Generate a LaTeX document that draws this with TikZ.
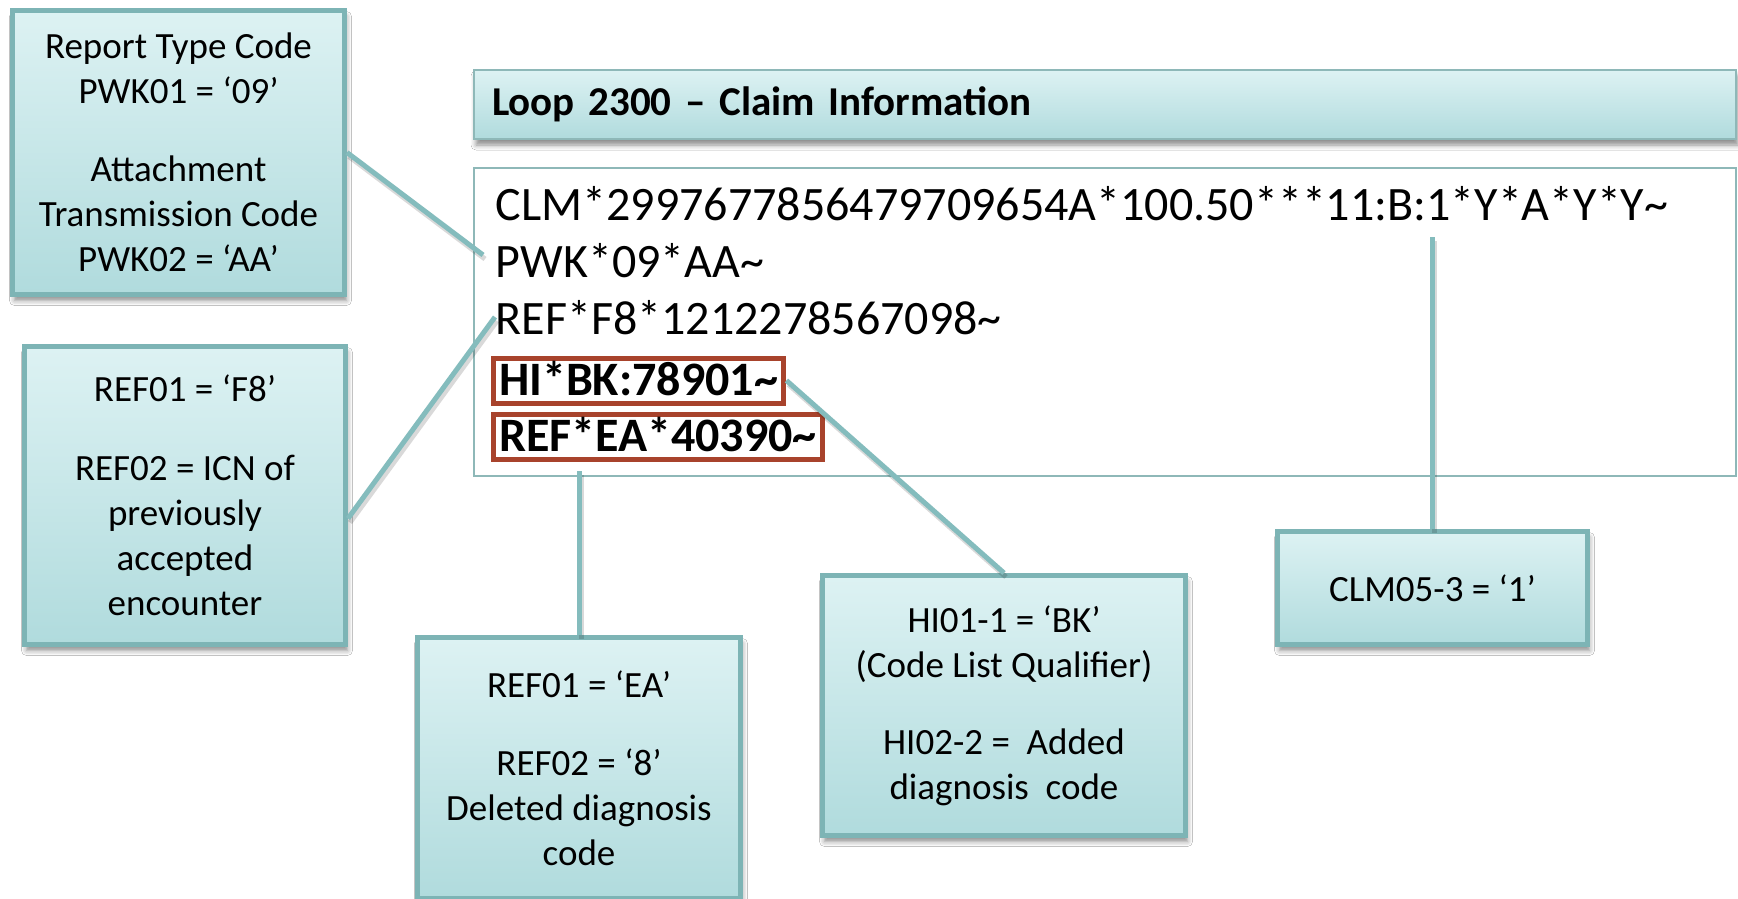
\documentclass[tikz,border=0pt]{standalone}
\usepackage{fontspec}
\setmainfont{Carlito}
\usetikzlibrary{shadows.blur}
\definecolor{cBorder}{HTML}{7DB4B5}
\definecolor{cTop}{HTML}{DDF2F3}
\definecolor{cBot}{HTML}{B0DBDD}
\definecolor{cLine}{HTML}{84BCBD}
\definecolor{cFrame}{HTML}{8EB8B8}
\definecolor{cRed}{HTML}{A8432C}
\begin{document}
\begin{tikzpicture}[x=1pt,y=-1pt,
  callout/.style={draw=cBorder, line width=5pt, top color=cTop, bottom color=cBot,
    align=center, inner sep=0pt, font=\fontsize{37pt}{45pt}\selectfont,
    blur shadow={shadow xshift=2pt, shadow yshift=-6pt, shadow blur radius=5pt, shadow opacity=45}},
  titlebar/.style={draw=cFrame, line width=2pt, top color=cTop, bottom color=cBot,
    font=\bfseries\fontsize{41pt}{48pt}\selectfont,
    blur shadow={shadow xshift=2pt, shadow yshift=-6pt, shadow blur radius=5pt, shadow opacity=45}},
  frame/.style={draw=cFrame, line width=2pt, fill=white},
  code/.style={inner sep=0pt, font=\fontsize{48pt}{57pt}\selectfont},
  redbox/.style={draw=cRed, line width=5pt, fill=white, inner xsep=6pt, inner ysep=0pt,
    text height=37pt, text depth=8pt, font=\bfseries\fontsize{48pt}{57pt}\selectfont},
  conn/.style={draw=cLine, line width=5pt,
    preaction={draw=black, opacity=0.15, line width=5pt, transform canvas={shift={(2pt,-4pt)}}}}
]
\useasboundingbox (0,0) rectangle (1738,899);
\clip (0,0) rectangle (1738,899);
\fill[white] (0,0) rectangle (1738,899);

% loop heading and segment frame
\node[titlebar, minimum width=1262pt, minimum height=69pt, text width=1226pt,
      inner xsep=18pt, align=left] (title) at (1105,104.5) {Loop 2300 – Claim Information};
\node[frame, minimum width=1262pt, minimum height=308pt] (mainbox) at (1105,322) {};

% segments
\node[code, anchor=base west] (clm) at (495.5,220) {CLM*2997677856479709654A*100.50***11:B:1*Y*A*Y*Y\textasciitilde};
\node[code, anchor=base west] (pwk) at (495.5,277) {PWK*09*AA\textasciitilde};
\node[code, anchor=base west] (reff) at (495.5,334) {REF*F8*1212278567098\textasciitilde};
\node[redbox, anchor=base west] (hi) at (490.5,395) {HI*BK:78901\textasciitilde};
\node[redbox, anchor=base west] (refea) at (490.5,451) {REF*EA*40390\textasciitilde};

% connector ends inside the frame
\coordinate (pwkend) at (483,255);
\coordinate (f8end) at (495,317);
\coordinate (clmtop) at (1434,237);

% callouts
\node[callout, minimum width=332pt, minimum height=284pt] (pwkcall) at (178.5,152.5)
  {Report Type Code\\PWK01 = ‘09’\\[33pt]Attachment\\Transmission Code\\PWK02 = ‘AA’};
\node[callout, minimum width=321pt, minimum height=298pt] (f8call) at (185,495.5)
  {REF01 = ‘F8’\\[34pt]REF02 = ICN of\\previously\\accepted\\encounter};
\node[callout, minimum width=323pt, minimum height=261pt] (refcall) at (579,768)
  {REF01 = ‘EA’\\[33pt]REF02 = ‘8’\\Deleted diagnosis\\code};
\node[callout, minimum width=363pt, minimum height=260pt] (hicall) at (1004,705.5)
  {HI01-1 = ‘BK’\\(Code List Qualifier)\\[32pt]HI02-2 =\ \ Added\\diagnosis\ \ code};
\node[callout, minimum width=310pt, minimum height=113pt] (clmcall) at (1432.5,588)
  {CLM05-3 = ‘1’};

% connectors
\draw[conn] (pwkcall.east) -- (pwkend);
\draw[conn] ([yshift=-23pt]f8call.east) -- (f8end);
\draw[conn] (hi.east) -- (hicall.north);
\draw[conn] (refcall.north) -- ([yshift=6pt]refcall.north |- mainbox.south);
\draw[conn] (clmcall.north) -- (clmcall.north |- clmtop);
\end{tikzpicture}
\end{document}
